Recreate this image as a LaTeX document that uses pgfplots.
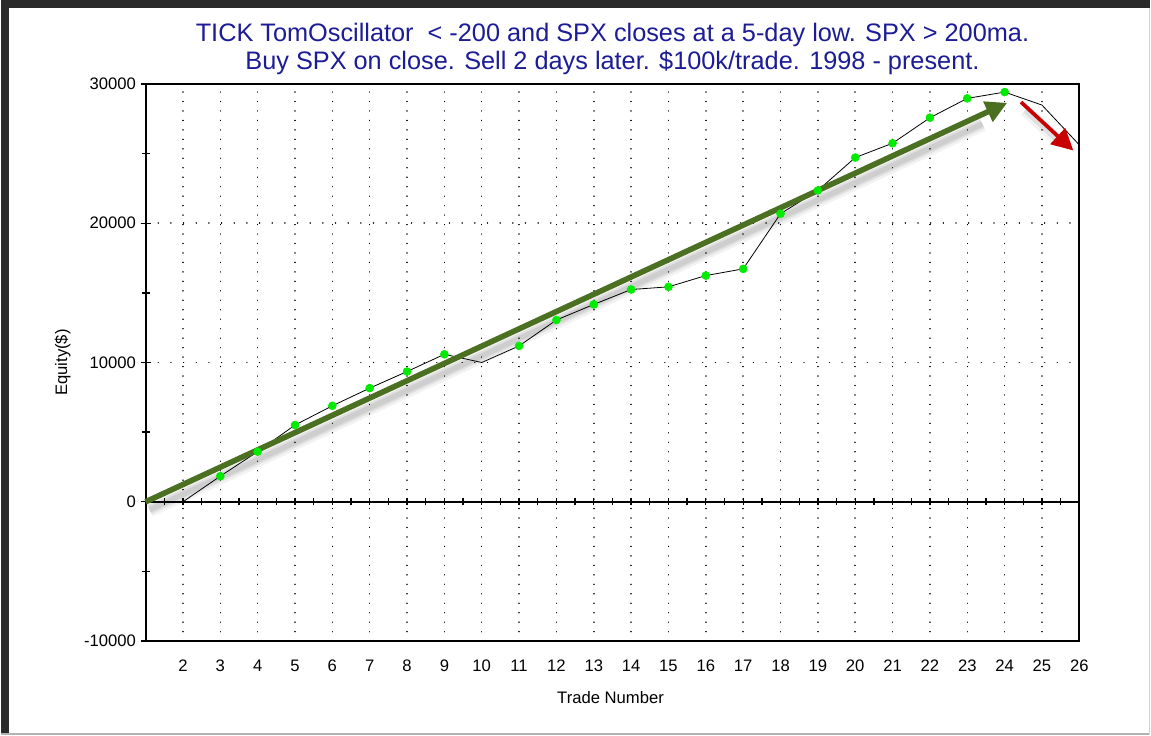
\documentclass[border=0pt]{standalone}
\usepackage{fontspec}
\setmainfont{Liberation Sans}
\usepackage{pgfplots}
\usepackage{pgfplotstable}
\pgfplotsset{compat=1.18}
\usetikzlibrary{arrows.meta}
\definecolor{titleblue}{RGB}{28,28,150}
\definecolor{arrowgreen}{RGB}{76,112,34}
\definecolor{arrowred}{RGB}{200,0,0}
\definecolor{dotgreen}{RGB}{0,235,0}
\definecolor{framecol}{RGB}{42,42,42}

\pgfplotstableread{
x y
1 0
2 0
3 1840
4 3600
5 5510
6 6890
7 8160
8 9350
9 10590
10 10000
11 11190
12 13050
13 14170
14 15240
15 15430
16 16240
17 16720
18 20680
19 22350
20 24710
21 25740
22 27570
23 28960
24 29410
25 28480
26 25620
}\equity

\pgfplotstableread{
x y
3 1840
4 3600
5 5510
6 6890
7 8160
8 9350
9 10590
11 11190
12 13050
13 14170
14 15240
15 15430
16 16240
17 16720
18 20680
19 22350
20 24710
21 25740
22 27570
23 28960
24 29410
}\wins

\begin{document}
\begin{tikzpicture}[x=0.75pt,y=0.75pt]
\fill[white] (0,0) rectangle (1151,736);
\fill[framecol] (0,728) rectangle (1151,736);
\fill[framecol] (0,0) rectangle (8,736);
\draw[gray!60, line width=1.2pt] (0,0.8) -- (1151,0.8);
\draw[gray!35, line width=0.8pt] (1150,0) -- (1150,728);

% zero line with ticks
\begin{axis}[
  at={(108.75pt,70.5pt)}, anchor=south west,
  scale only axis, width=701.25pt, height=418.5pt,
  xmin=1, xmax=26, ymin=-10000, ymax=30000,
  axis x line=middle, axis y line=none,
  axis line style={-, line width=1.4pt, black},
  xtick={1,1.5,...,26}, xticklabels={},
  ytick=\empty,
  tick align=center, major tick length=5.5pt,
  tick style={line width=1pt, black},
]
\end{axis}

\begin{axis}[
  at={(108.75pt,70.5pt)}, anchor=south west,
  scale only axis, width=701.25pt, height=418.5pt,
  xmin=1, xmax=26, ymin=-10000, ymax=30000,
  clip=false,
  scaled y ticks=false,
  axis line style={line width=1.4pt, black},
  xtick={2,...,26},
  major x tick style={draw=none},
  ytick={-10000,0,10000,20000,30000},
  minor ytick={-5000,5000,15000,25000},
  ytick pos=left,
  tick align=center,
  major tick length=7.5pt, minor tick length=6pt,
  y tick style={line width=1pt, black},
  xmajorgrids, ymajorgrids,
  major x grid style={black, line width=1.1pt, dash pattern=on 0.01pt off 7.1pt, line cap=round},
  major y grid style={black, line width=1.1pt, dash pattern=on 0.01pt off 9.5pt, line cap=round},
  /pgf/number format/.cd, assume math mode=true, 1000 sep={},
  /pgfplots/.cd,
  ticklabel style={font=\fontsize{12.5}{15}\selectfont, black},
  xticklabel style={yshift=-7pt},
  title={TICK TomOscillator\ \ \textless\ -200 and SPX closes at a 5-day low. SPX \textgreater\ 200ma.\\Buy SPX on close. Sell 2 days later. \$100k/trade. 1998 - present.},
  title style={font=\fontsize{19}{21}\selectfont, color=titleblue, align=center,
    at={(axis description cs:0.5,1.0484)}, anchor=center},
  xlabel={Trade Number},
  xlabel style={font=\fontsize{12.5}{15}\selectfont, at={(axis description cs:0.498,-0.1004)}, anchor=center},
  ylabel={Equity(\$)},
  ylabel style={font=\fontsize{12.5}{15}\selectfont, at={(axis description cs:-0.0888,0.5)}, anchor=center},
]
\addplot[black, line width=0.6pt, mark=none] table[x=x,y=y] {\equity};
\addplot[only marks, mark=*, mark size=3pt, draw=dotgreen, fill=dotgreen] table[x=x,y=y] {\wins};

% shadows
\addplot[black, opacity=0.05, line width=11pt, xshift=3pt, yshift=-6pt, mark=none] coordinates {(1,0) (23.3,27700)};
\addplot[black, opacity=0.07, line width=7pt, xshift=3pt, yshift=-6pt, mark=none] coordinates {(1,0) (23.3,27700)};
\addplot[black, opacity=0.08, line width=4pt, xshift=3pt, yshift=-6pt, mark=none] coordinates {(1,0) (23.3,27700)};
\addplot[black, opacity=0.05, line width=9pt, xshift=3pt, yshift=-6pt, mark=none] coordinates {(24.44,28690) (25.4,26300)};
\addplot[black, opacity=0.08, line width=4pt, xshift=3pt, yshift=-6pt, mark=none] coordinates {(24.44,28690) (25.4,26300)};
% arrows
\addplot[arrowgreen, line width=4.2pt, mark=none, -{Triangle[length=16pt,width=16pt]}] coordinates {(1,0) (24.07,28640)};
\addplot[arrowred, line width=2.8pt, mark=none, -{Triangle[length=16pt,width=16pt]}] coordinates {(24.44,28690) (25.84,25220)};
\end{axis}
\end{tikzpicture}
\end{document}
